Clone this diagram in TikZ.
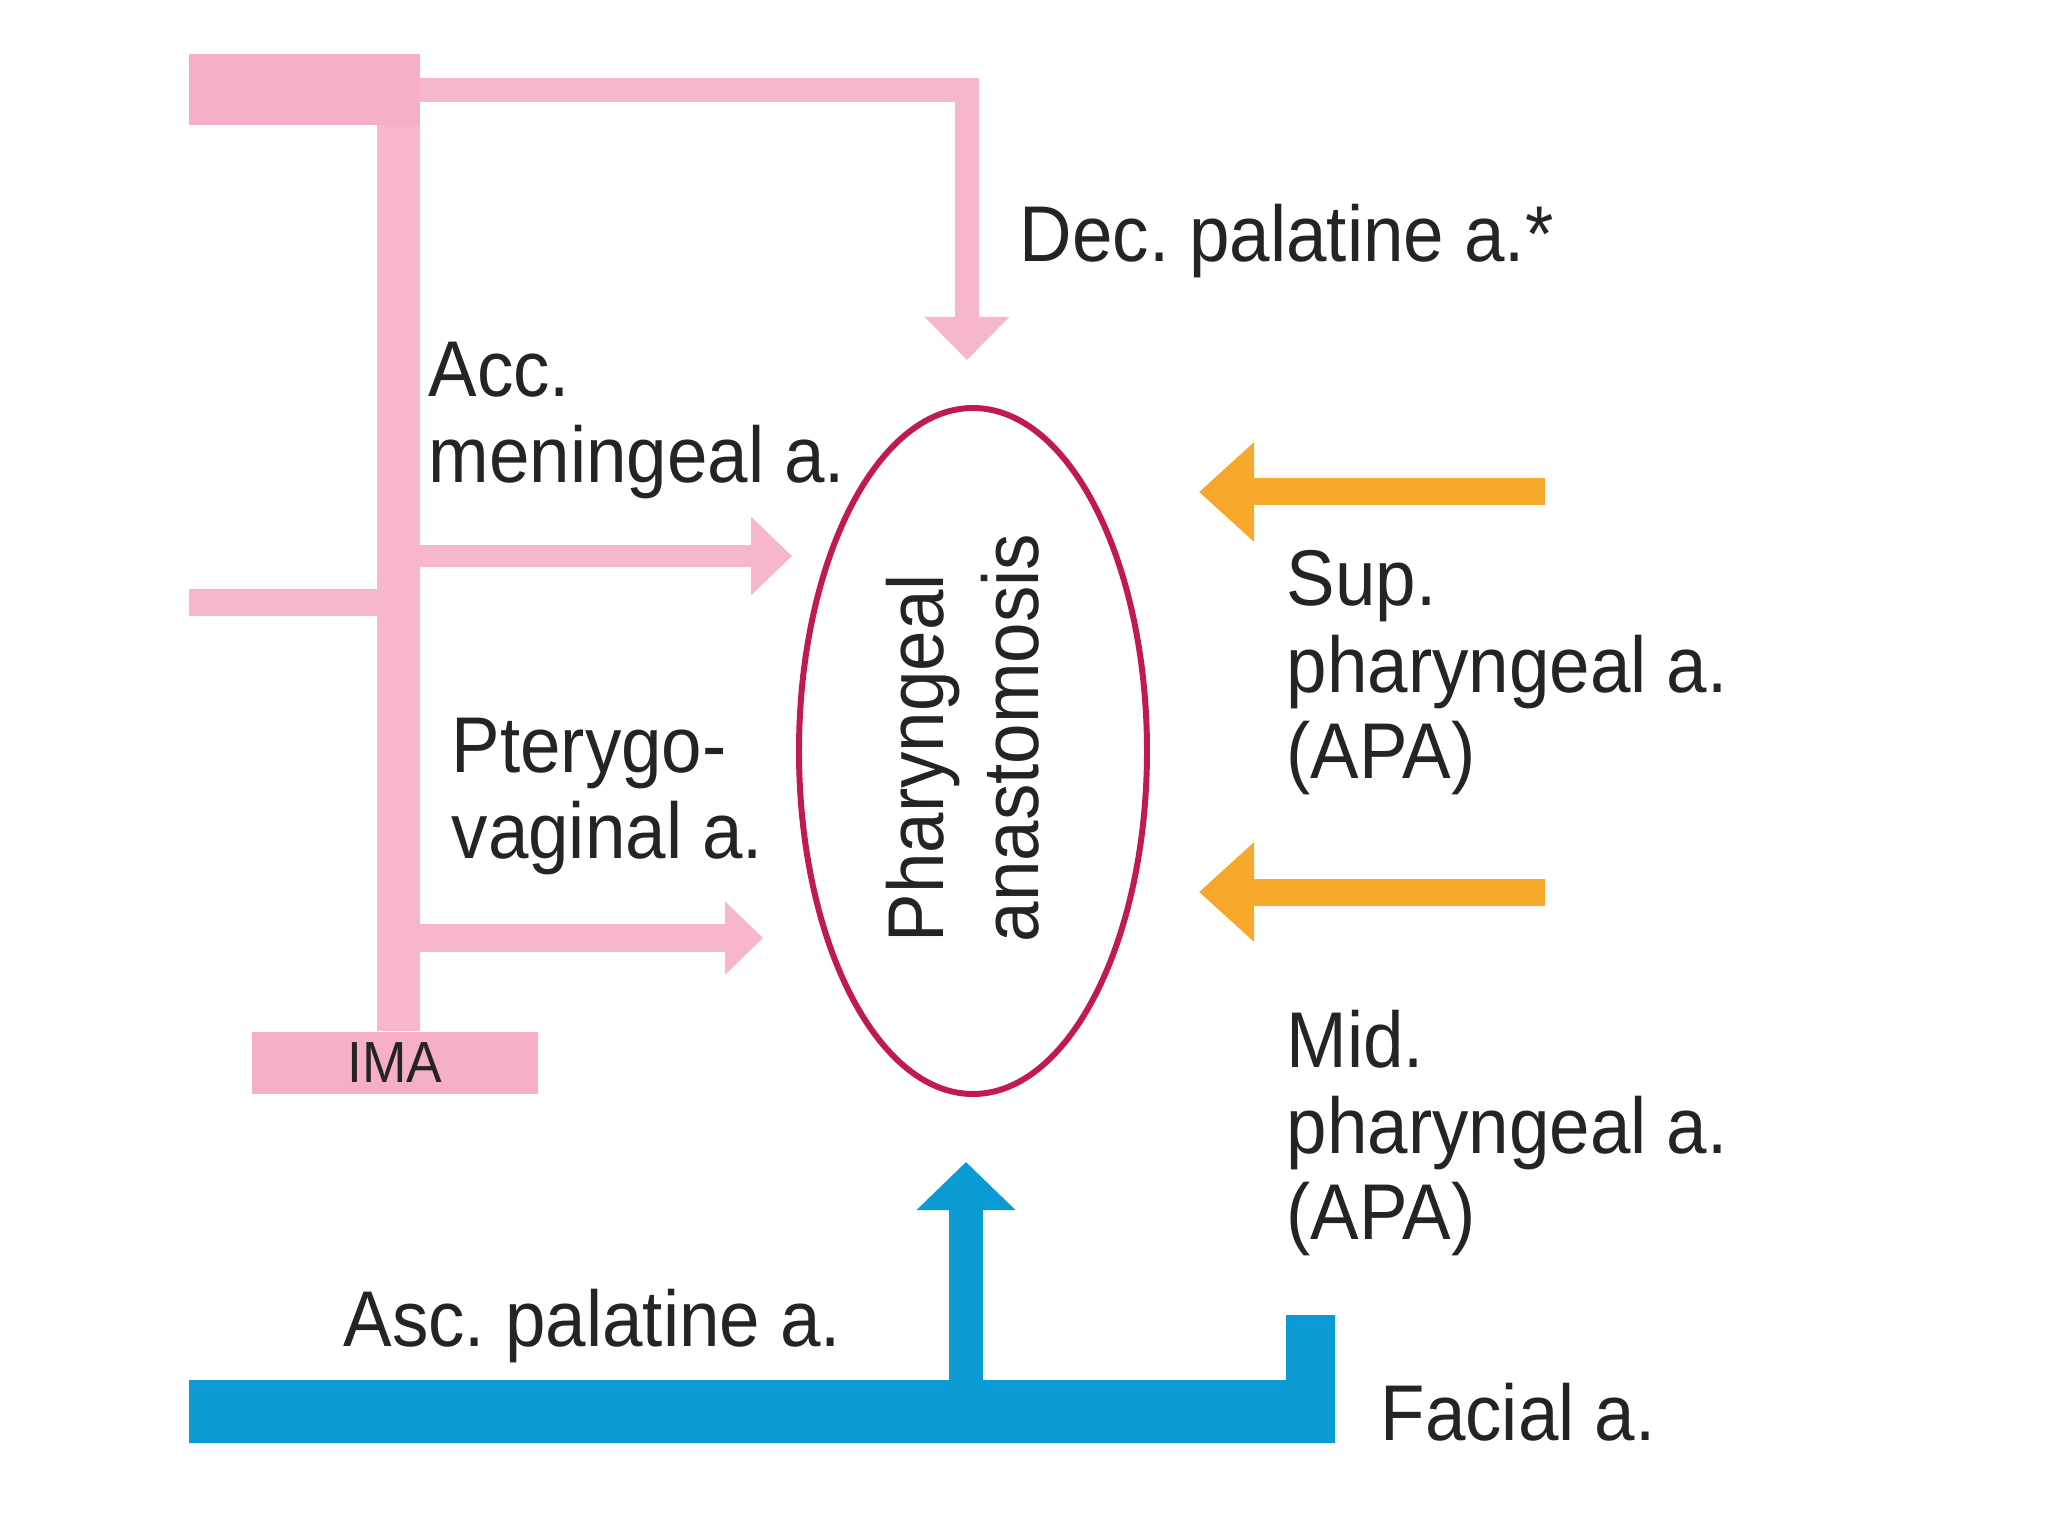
\documentclass[tikz,border=0pt]{standalone}
\usepackage{fontspec}
\setmainfont{Liberation Sans}[FakeStretch=0.92]
\frenchspacing
\definecolor{vesselpink}{HTML}{F5B7C9}
\definecolor{trunkpink}{HTML}{F6AFC5}
\definecolor{apaorange}{HTML}{F7A82A}
\definecolor{facialblue}{HTML}{0A9AD4}
\definecolor{anastred}{HTML}{C01A50}
\definecolor{ink}{HTML}{262324}
\usetikzlibrary{arrows.meta, positioning, shapes.geometric}

\begin{document}
\begin{tikzpicture}[
    lbl/.style={font=\fontsize{22.5}{24.5}\selectfont, text=ink, inner sep=0pt, align=left},
    pinkbranch/.style={draw=vesselpink, line width=2.2mm, -{Triangle[length=4.1mm, width=7.6mm]}},
    apaarrow/.style={draw=apaorange, line width=2.7mm, -{Triangle[length=5.5mm, width=9.6mm]}}
  ]
  \useasboundingbox (0,0) rectangle (20.48,-15.36);
  \fill[white] (0,0) rectangle (20.48,-15.36);

  % anastomosis
  \node[ellipse, draw=anastred, line width=1.7pt, minimum width=3.48cm, minimum height=6.86cm, inner sep=0pt] (anast) at (9.73,-7.51) {};
  \node[lbl, rotate=90, font=\fontsize{22.5}{27}\selectfont] (anastlbl) at (9.63,-7.38) {Pharyngeal\\anastomosis};

  % internal maxillary a. and its branches
  \node[fill=trunkpink, minimum width=2.86cm, minimum height=0.62cm, inner sep=0pt, font=\fontsize{16.5}{18}\selectfont, text=ink] (ima) at (3.95,-10.63) {IMA};
  \fill[trunkpink] (1.89,-0.54) rectangle (4.20,-1.25);
  \coordinate (trunktop) at (3.985,-1.25);
  \draw[vesselpink, line width=4.3mm] (trunktop) -- (trunktop |- ima.north);
  \coordinate (leftin) at (1.89,-6.03);
  \draw[vesselpink, line width=2.7mm] (leftin) -- (trunktop |- leftin);

  \coordinate (topbar) at (4.20,-0.90);
  \coordinate (decend) at (9.67,-3.60);
  \draw[vesselpink, line width=2.4mm, -{Triangle[length=4.3mm, width=8.2mm]}] (topbar) -| (decend);

  \coordinate (accstart) at (4.20,-5.56);
  \coordinate (accend) at (7.92,-5.56);
  \draw[pinkbranch] (accstart) -- (accend);
  \coordinate (ptstart) at (4.20,-9.38);
  \coordinate (ptend) at (7.63,-9.38);
  \draw[pinkbranch, line width=2.8mm, -{Triangle[length=3.8mm, width=7.1mm]}] (ptstart) -- (ptend);

  % ascending pharyngeal a.
  \coordinate (supstart) at (15.45,-4.92);
  \coordinate (supend) at (11.99,-4.92);
  \draw[apaarrow] (supstart) -- (supend);
  \coordinate (midstart) at (15.45,-8.92);
  \coordinate (midend) at (11.99,-8.92);
  \draw[apaarrow] (midstart) -- (midend);

  % facial a.
  \fill[facialblue] (1.89,-13.80) -- (12.86,-13.80) -- (12.86,-13.15) -- (13.35,-13.15) -- (13.35,-14.43) -- (1.89,-14.43) -- cycle;
  \coordinate (ascstart) at (9.66,-13.90);
  \coordinate (ascend) at (9.66,-11.62);
  \draw[facialblue, line width=3.4mm, -{Triangle[length=4.8mm, width=9.6mm]}] (ascstart) -- (ascend);

  % labels
  \node[lbl, anchor=base west] (dec) at (10.19,-2.62) {Dec. palatine a.*};
  \node[lbl, anchor=north west] (accmen) at (4.28,-3.41) {Acc.\\meningeal a.};
  \node[lbl, anchor=north west] (ptervag) at (4.51,-7.17) {Pterygo-\\vaginal a.};
  \node[lbl, anchor=north west] (supphar) at (12.86,-5.50) {Sup.\\pharyngeal a.\\(APA)};
  \node[lbl, anchor=north west] (midphar) at (12.86,-10.09) {Mid.\\pharyngeal a.\\(APA)};
  \node[lbl, anchor=base west] (ascpal) at (3.43,-13.46) {Asc. palatine a.};
  \node[lbl, anchor=base west] (facial) at (13.80,-14.40) {Facial a.};
\end{tikzpicture}
\end{document}
